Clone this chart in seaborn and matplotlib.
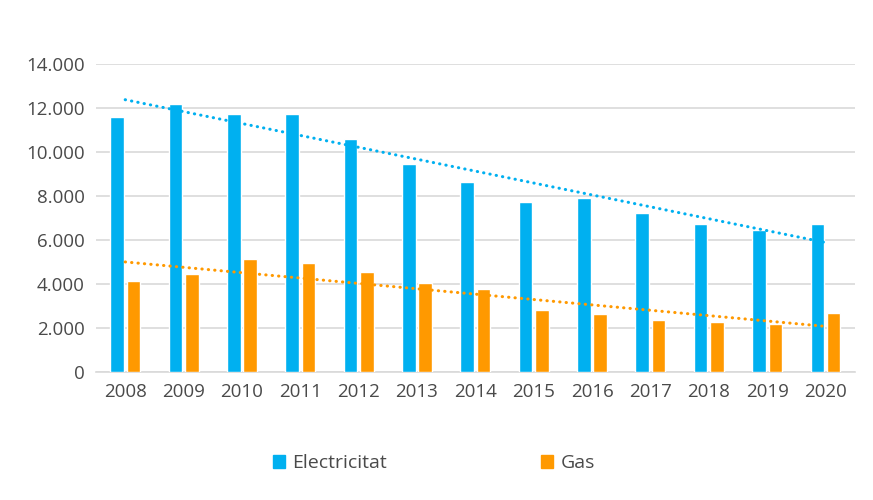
import pandas as pd
import numpy as np
import matplotlib
matplotlib.use("Agg")
import matplotlib.pyplot as plt
import seaborn as sns
from matplotlib.ticker import FuncFormatter

years = ['2008', '2009', '2010', '2011', '2012', '2013', '2014',
         '2015', '2016', '2017', '2018', '2019', '2020']
electricitat = [11600, 12180, 11730, 11730, 10590, 9450, 8640,
                7730, 7910, 7230, 6730, 6450, 6730]
gas = [4140, 4450, 5140, 4950, 4550, 4050, 3770,
       2820, 2640, 2360, 2270, 2180, 2680]

mycolors = ['#00B0F0', '#FF9900']
textcolor = '#4a4a4a'
gridcolor = '#D9D9D9'

sns.set_style('white')
plt.rcParams['font.family'] = ['Open Sans', 'DejaVu Sans']

data = pd.DataFrame({'Any': years * 2,
                     'Valor': electricitat + gas,
                     'Tipus': ['Electricitat'] * len(years) + ['Gas'] * len(years)})

fig = plt.figure(figsize=(8.73, 5), dpi=100)
ax = fig.add_axes([0.110, 0.256, 0.869, 0.616])

sns.barplot(data=data, x='Any', y='Valor', hue='Tipus', palette=mycolors,
            width=0.56, gap=0.17, saturation=1, ax=ax, legend=False, zorder=3)

# linear trendlines (dotted), like Excel
xpos = np.arange(len(years))
for vals, col in [(electricitat, mycolors[0]), (gas, mycolors[1])]:
    k, b = np.polyfit(xpos, vals, 1)
    ax.plot(xpos, k * xpos + b, color=col, linewidth=2.2,
            linestyle=(0, (0.1, 2.0)), dash_capstyle='round', zorder=4)

ax.set_xlim(-0.5, 12.5)
ax.set_ylim(0, 14000)
ax.set_yticks(range(0, 14001, 2000))
ax.yaxis.set_major_formatter(FuncFormatter(lambda v, p: f'{int(v):,}'.replace(',', '.')))
ax.grid(True, axis='y', color=gridcolor, linewidth=1.2, zorder=0)
ax.set_axisbelow(True)
for s in ['top', 'right', 'left']:
    ax.spines[s].set_visible(False)
ax.spines['bottom'].set_color(gridcolor)
ax.spines['bottom'].set_linewidth(1.2)
ax.tick_params(axis='both', length=0, labelsize=13.5, colors=textcolor, pad=8)
ax.set_xlabel('')
ax.set_ylabel('')

handles = [plt.Rectangle((0, 0), 1, 1, color=c) for c in mycolors]
fig.legend(handles, ['Electricitat', 'Gas'], loc='center', bbox_to_anchor=(0.497, 0.073),
           ncol=2, frameon=False, fontsize=14, labelcolor=textcolor,
           handlelength=0.6, handleheight=0.6, handletextpad=0.4, columnspacing=7.9)

fig.savefig('out.png', dpi=100)
